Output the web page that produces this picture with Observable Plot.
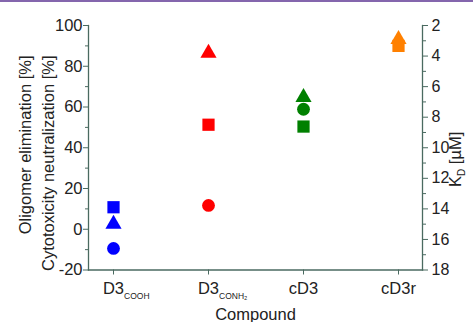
<!DOCTYPE html>
<html>
<head>
<meta charset="utf-8">
<script src="https://cdn.jsdelivr.net/npm/d3@7"></script>
<script src="https://cdn.jsdelivr.net/npm/@observablehq/plot@0.6"></script>
<style>
  html, body { margin: 0; padding: 0; background: #fff; }
  #wrap { position: relative; width: 473px; height: 322px; overflow: hidden; }
  #topline { position: absolute; left: 0; top: 0; width: 473px; height: 2px; background: #8466ad; }
</style>
</head>
<body>
<div id="wrap"><div id="topline"></div></div>
<script>
// ---- data ----
const compounds = ["D3_COOH", "D3_CONH₂", "cD3", "cD3r"];
const colors = ["#0000ff", "#ff0000", "#008000", "#ff8000"];
const oligomerElimination = [-9.4, 11.7, 58.9, null];   // % (circles, left axis)
const cytotoxNeutralization = [10.8, 51.3, 50.4, 90];   // % (squares, left axis)
const kdValues = [15.0, 3.8, 6.7, 2.9];                 // µM (triangles, right axis)
const leftTicks = [-20, 0, 20, 40, 60, 80, 100];
const leftMinor = [-10, 10, 30, 50, 70, 90];
const kdTicks = [2, 4, 6, 8, 10, 12, 14, 16, 18];
const kdMinor = [3, 5, 7, 9, 11, 13, 15, 17];
const yLabel1 = "Oligomer elimination [%]";
const yLabel2 = "Cytotoxicity neutralization [%]";
const kdLabel = "K_D [µM]";
const xLabel = "Compound";

// right axis (Kd, reversed 2..18) mapped onto left scale (100..-20)
const kdToLeft = k => 100 - (k - 2) * 7.5;
const leftToKd = v => 2 + (100 - v) / 7.5;

const circles = compounds.map((c, i) => ({c, v: oligomerElimination[i], col: colors[i]})).filter(d => d.v != null);
const squares = compounds.map((c, i) => ({c, v: cytotoxNeutralization[i], col: colors[i]})).filter(d => d.v != null);
const triangles = compounds.map((c, i) => ({c, v: kdToLeft(kdValues[i]), col: colors[i]}));

const axisCol = "#4a6a60";
const textCol = "#222";

const chart = Plot.plot({
  width: 473,
  height: 322,
  marginTop: 25,
  marginRight: 51,
  marginBottom: 52.5,
  marginLeft: 88,
  style: {fontFamily: "'Liberation Sans', Arial, sans-serif", fontSize: "16px", background: "transparent"},
  x: {type: "point", domain: compounds, padding: 0.25, axis: null},
  y: {domain: [-20, 100], axis: null},
  marks: [
    Plot.frame({anchor: "left", stroke: axisCol, strokeWidth: 1.3}),
    Plot.frame({anchor: "right", stroke: axisCol, strokeWidth: 1.3}),
    Plot.frame({anchor: "bottom", stroke: axisCol, strokeWidth: 1.3}),
    Plot.axisY({anchor: "left", ticks: leftTicks, tickSize: 5, tickPadding: 1, tickFormat: v => String(v), stroke: axisCol, fill: textCol, label: null, fontSize: 16.5}),
    Plot.axisY({anchor: "left", ticks: leftMinor, tickSize: 3, tickFormat: () => "", stroke: axisCol, label: null}),
    Plot.axisY({anchor: "right", ticks: kdTicks.map(kdToLeft), tickFormat: v => String(Math.round(leftToKd(v))), tickSize: 5, tickPadding: 4, stroke: axisCol, fill: textCol, label: null, fontSize: 16}),
    Plot.axisY({anchor: "right", ticks: kdMinor.map(kdToLeft), tickSize: 3, tickFormat: () => "", stroke: axisCol, label: null}),
    Plot.axisX({anchor: "bottom", ticks: compounds, tickSize: 5, tickPadding: 7, stroke: axisCol, fill: textCol, label: null, fontSize: 16.5}),
    Plot.dot(squares, {x: "c", y: "v", fill: "col", symbol: "square", r: 6.9}),
    Plot.dot(circles, {x: "c", y: "v", fill: "col", symbol: "circle", r: 6.4}),
    Plot.dot(triangles, {x: "c", y: "v", fill: "col", symbol: "triangle", r: 6}),
    Plot.text([yLabel1], {frameAnchor: "top-left", rotate: -90, textAnchor: "end", dx: -69, dy: 30, fontSize: 16.5, fill: textCol}),
    Plot.text([yLabel2], {frameAnchor: "top-left", rotate: -90, textAnchor: "end", dx: -46, dy: 30, fontSize: 16.5, fill: textCol}),
    Plot.text([kdLabel], {frameAnchor: "bottom-right", rotate: -90, textAnchor: "start", dx: 38, dy: -83, fontSize: 16.5, fill: textCol}),
    Plot.text([xLabel], {frameAnchor: "bottom", lineAnchor: "bottom", dy: 50, fontSize: 16.5, fill: textCol})
  ]
});

document.getElementById("wrap").prepend(chart);

// turn "_X" into subscripts
const NS = "http://www.w3.org/2000/svg";
chart.querySelectorAll("text").forEach(t => {
  const s = t.textContent;
  const m = /^(.*?)_(\S+)(.*)$/.exec(s);
  if (!m) return;
  const isTick = !!t.closest('[aria-label="x-axis tick label"]');
  while (t.firstChild) t.removeChild(t.firstChild);
  const a = document.createElementNS(NS, "tspan"); a.textContent = m[1];
  const b = document.createElementNS(NS, "tspan"); b.textContent = m[2];
  b.setAttribute("font-size", isTick ? "8.5" : "10");
  b.setAttribute("dy", isTick ? "5" : "4");
  t.appendChild(a); t.appendChild(b);
  if (m[3]) {
    const c = document.createElementNS(NS, "tspan"); c.textContent = m[3];
    c.setAttribute("dy", "-4");
    t.appendChild(c);
  }
  if (isTick) {
    const w = a.getComputedTextLength();
    t.setAttribute("text-anchor", "start");
    a.setAttribute("dx", String(-w / 2));
  }
});
</script>
</body>
</html>
